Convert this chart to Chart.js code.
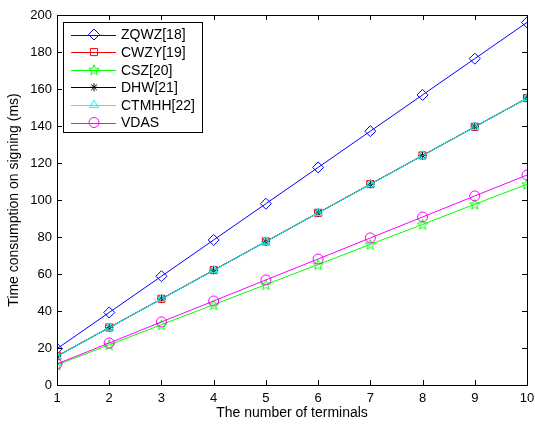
<!DOCTYPE html>
<html>
<head>
<meta charset="utf-8">
<script src="https://cdn.jsdelivr.net/npm/chart.js@4.4.1/dist/chart.umd.min.js"></script>
<style>
  html, body { margin: 0; padding: 0; background: #fff; }
  #wrap { width: 535px; height: 424px; position: relative; }
</style>
</head>
<body>
<div id="wrap"><canvas id="myChart" width="535" height="424"></canvas></div>
<script>
// data
const terminals = [1, 2, 3, 4, 5, 6, 7, 8, 9, 10];
const zqwz = [19.6, 39.2, 58.8, 78.4, 98.0, 117.6, 137.2, 156.8, 176.4, 196.0];
const cwzy = [15.6, 31.1, 46.6, 62.1, 77.6, 93.1, 108.6, 124.1, 139.6, 155.1];
const csz = [10.9, 21.7, 32.6, 43.4, 54.3, 65.1, 76.0, 86.8, 97.7, 108.5];
const dhw = [15.5, 31.0, 46.5, 62.0, 77.5, 93.0, 108.5, 124.0, 139.5, 155.0];
const ctmhh = [15.5, 31.0, 46.5, 62.0, 77.5, 93.0, 108.5, 124.0, 139.5, 155.0];
const vdas = [11.4, 22.7, 34.1, 45.4, 56.8, 68.1, 79.5, 90.8, 102.2, 113.5];
const seriesNames = ['ZQWZ[18]', 'CWZY[19]', 'CSZ[20]', 'DHW[21]', 'CTMHH[22]', 'VDAS'];
const yTicks = [0, 20, 40, 60, 80, 100, 120, 140, 160, 180, 200];

const FONT = '"Liberation Sans", Arial, sans-serif';

// green pentagram marker, Chart.js has none
function makeStar(color) {
  const c = document.createElement('canvas');
  c.width = 14; c.height = 14;
  const g = c.getContext('2d');
  g.strokeStyle = color;
  g.lineWidth = 1;
  g.beginPath();
  for (let i = 0; i < 10; i++) {
    const r = i % 2 === 0 ? 5.5 : 2.3;
    const a = -Math.PI / 2 + i * Math.PI / 5;
    const px = 7 + r * Math.cos(a);
    const py = 7.5 + r * Math.sin(a);
    if (i === 0) g.moveTo(px, py); else g.lineTo(px, py);
  }
  g.closePath();
  g.stroke();
  return c;
}
const starImg = makeStar('#00ff00');

const styles = [
  { color: '#0000ff', point: 'rectRot', radius: 5.5, order: 6 },
  { color: '#ff0000', point: 'rect', radius: 5, order: 5 },
  { color: '#00ff00', point: starImg, radius: 5, order: 4 },
  { color: '#000000', point: 'star', radius: 4, order: 3 },
  { color: '#00ffff', point: 'triangle', radius: 5, order: 2 },
  { color: '#ff00ff', point: 'circle', radius: 5, order: 1 },
];
const allData = [zqwz, cwzy, csz, dhw, ctmhh, vdas];

const datasets = allData.map((vals, i) => ({
  label: seriesNames[i],
  data: terminals.map((t, j) => ({ x: t, y: vals[j] })),
  borderColor: styles[i].color,
  backgroundColor: 'transparent',
  borderWidth: 1,
  pointStyle: styles[i].point,
  pointRadius: styles[i].radius,
  pointBorderColor: styles[i].color,
  pointBackgroundColor: 'transparent',
  pointBorderWidth: 1,
  order: styles[i].order,
  tension: 0,
}));

// frame, inward ticks and the legend box
const matlabLook = {
  id: 'matlabLook',
  afterDatasetsDraw(chart) {
    const { ctx, chartArea: a, scales } = chart;
    ctx.save();
    ctx.strokeStyle = '#000';
    ctx.lineWidth = 1;
    ctx.strokeRect(a.left + 0.5, a.top + 0.5, a.right - a.left, a.bottom - a.top);
    const tl = 5;
    ctx.beginPath();
    yTicks.forEach(v => {
      const y = Math.round(scales.y.getPixelForValue(v)) + 0.5;
      ctx.moveTo(a.left, y); ctx.lineTo(a.left + tl, y);
      ctx.moveTo(a.right, y); ctx.lineTo(a.right - tl, y);
    });
    terminals.forEach(v => {
      const x = Math.round(scales.x.getPixelForValue(v)) + 0.5;
      ctx.moveTo(x, a.bottom); ctx.lineTo(x, a.bottom - tl);
      ctx.moveTo(x, a.top); ctx.lineTo(x, a.top + tl);
    });
    ctx.stroke();

    // legend
    const lx = a.left + 6, ly = a.top + 7, lw = 139, lh = 110;
    ctx.fillStyle = '#fff';
    ctx.fillRect(lx, ly, lw, lh);
    ctx.strokeRect(lx + 0.5, ly + 0.5, lw, lh);
    ctx.font = '14px ' + FONT;
    ctx.textBaseline = 'middle';
    chart.data.datasets.forEach((ds, i) => {
      const y = ly + 12.5 + i * 17.6;
      ctx.strokeStyle = ds.borderColor;
      ctx.beginPath();
      ctx.moveTo(lx + 8, Math.round(y) + 0.5);
      ctx.lineTo(lx + 53, Math.round(y) + 0.5);
      ctx.stroke();
      ctx.fillStyle = 'rgba(0,0,0,0)';
      Chart.helpers.drawPoint(ctx, {
        pointStyle: ds.pointStyle,
        radius: ds.pointRadius,
        borderWidth: 1,
        rotation: 0,
      }, lx + 31, y);
      ctx.fillStyle = '#000';
      ctx.fillText(ds.label, lx + 58, y + 1);
    });
    ctx.restore();
  },
};

const ctx = document.getElementById('myChart').getContext('2d');
new Chart(ctx, {
  type: 'line',
  data: { datasets },
  plugins: [matlabLook],
  options: {
    responsive: false,
    animation: false,
    devicePixelRatio: 1,
    layout: { padding: { top: 15, right: 8, left: 0, bottom: 0 } },
    plugins: { legend: { display: false }, tooltip: { enabled: false } },
    scales: {
      x: {
        type: 'linear',
        min: 1,
        max: 10,
        afterBuildTicks: s => { s.ticks = terminals.map(v => ({ value: v })); },
        afterFit: s => { s.height = 39; s.paddingLeft = 0; s.paddingRight = 0; },
        grid: { display: false, drawTicks: false },
        border: { display: false },
        ticks: { color: '#000', font: { family: FONT, size: 13 }, padding: 6, maxRotation: 0 },
        title: {
          display: true,
          text: 'The number of terminals',
          color: '#000',
          font: { family: FONT, size: 14 },
          padding: { top: 0, bottom: 2 },
        },
      },
      y: {
        min: 0,
        max: 200,
        afterBuildTicks: s => { s.ticks = yTicks.map(v => ({ value: v })); },
        afterFit: s => { s.width = 57; s.paddingTop = 0; s.paddingBottom = 0; },
        grid: { display: false, drawTicks: false },
        border: { display: false },
        ticks: { color: '#000', font: { family: FONT, size: 13 }, padding: 5 },
        title: {
          display: true,
          text: 'Time consumption on signing (ms)',
          color: '#000',
          font: { family: FONT, size: 14 },
          padding: { top: 6, bottom: 4 },
        },
      },
    },
  },
});
</script>
</body>
</html>
